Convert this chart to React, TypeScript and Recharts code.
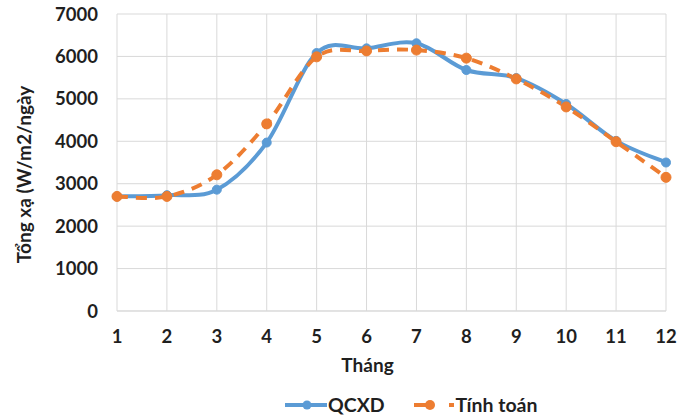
import React from 'react';
import {
  LineChart,
  Line,
  XAxis,
  YAxis,
  CartesianGrid,
  Legend
} from 'recharts';

const months = [1, 2, 3, 4, 5, 6, 7, 8, 9, 10, 11, 12];
const qcxd = [2700, 2730, 2860, 3970, 6080, 6190, 6310, 5680, 5490, 4880, 4010, 3500];
const tinhToan = [2700, 2700, 3210, 4410, 5990, 6130, 6150, 5960, 5470, 4810, 3990, 3150];
const yTicks = [0, 1000, 2000, 3000, 4000, 5000, 6000, 7000];

const BLUE = '#5B9BD5';
const ORANGE = '#ED7D31';
const TEXT = '#1f1f1f';
const FONT = 'Lato, "Open Sans", sans-serif';

const data = months.map((m, i) => ({ month: m, qcxd: qcxd[i], tinhToan: tinhToan[i] }));

// Excel-like smoothed line (Catmull-Rom style bezier)
const excelSmooth = (ctx: any) => {
  let pts: number[][] = [];
  return {
    areaStart() {},
    areaEnd() {},
    lineStart() {
      pts = [];
    },
    lineEnd() {
      const n = pts.length;
      if (!n) return;
      ctx.moveTo(pts[0][0], pts[0][1]);
      for (let i = 0; i < n - 1; i++) {
        const p0 = pts[Math.max(i - 1, 0)];
        const p1 = pts[i];
        const p2 = pts[i + 1];
        const p3 = pts[Math.min(i + 2, n - 1)];
        ctx.bezierCurveTo(
          p1[0] + (p2[0] - p0[0]) / 6,
          p1[1] + (p2[1] - p0[1]) / 6,
          p2[0] - (p3[0] - p1[0]) / 6,
          p2[1] - (p3[1] - p1[1]) / 6,
          p2[0],
          p2[1]
        );
      }
    },
    point(x: number, y: number) {
      pts.push([x, y]);
    }
  };
};

const renderLegend = () => (
  <div style={{ display: 'flex', alignItems: 'center', fontFamily: FONT, fontWeight: 700, fontSize: 19.5, color: TEXT, lineHeight: '20px', paddingLeft: 285 }}>
    <svg width={42} height={12} style={{ marginRight: 1 }}>
      <line x1={0} y1={6} x2={42} y2={6} stroke={BLUE} strokeWidth={4} />
      <circle cx={22} cy={6} r={4.5} fill={BLUE} />
    </svg>
    <span style={{ marginRight: 29 }}>QCXD</span>
    <svg width={41} height={12} style={{ marginRight: 1 }}>
      <line x1={0} y1={6} x2={16} y2={6} stroke={ORANGE} strokeWidth={4} />
      <circle cx={16} cy={6} r={5} fill={ORANGE} />
      <line x1={35} y1={6} x2={40} y2={6} stroke={ORANGE} strokeWidth={4} />
    </svg>
    <span>Tính toán</span>
  </div>
);

const App: React.FC = () => {
  return (
    <div style={{ position: 'absolute', left: 0, top: 0, background: '#fff' }}>
      <LineChart
        width={678}
        height={417}
        data={data}
        margin={{ top: 14, right: 12, left: 0, bottom: 56 }}
      >
        <CartesianGrid stroke="#d9d9d9" strokeWidth={1} verticalValues={months} />
        <XAxis
          dataKey="month"
          type="number"
          domain={[1, 12]}
          ticks={months}
          height={30}
          axisLine={{ stroke: '#d9d9d9' }}
          tickLine={false}
          tickSize={0}
          tickMargin={19}
          tick={{ fill: TEXT, fontFamily: FONT, fontWeight: 700, fontSize: 18.5 }}
          label={{
            value: 'Tháng',
            position: 'insideBottom',
            offset: -31,
            dx: -24,
            fill: TEXT,
            fontFamily: FONT,
            fontWeight: 700,
            fontSize: 19
          }}
        />
        <YAxis
          width={117}
          domain={[0, 7000]}
          ticks={yTicks}
          axisLine={false}
          tickLine={false}
          tickSize={0}
          tickMargin={19}
          tick={{ fill: TEXT, fontFamily: FONT, fontWeight: 700, fontSize: 18.5 }}
          label={{
            value: 'Tổng xạ (W/m2/ngày',
            angle: -90,
            position: 'insideLeft',
            offset: 24,
            dy: 12,
            fill: TEXT,
            fontFamily: FONT,
            fontWeight: 700,
            fontSize: 19,
            style: { textAnchor: 'middle' }
          }}
        />
        <Legend
          verticalAlign="bottom"
          content={renderLegend}
          wrapperStyle={{ position: 'absolute', left: 0, top: 395, width: 678 }}
        />
        <Line
          dataKey="qcxd"
          name="QCXD"
          type={excelSmooth as any}
          stroke={BLUE}
          strokeWidth={4}
          dot={{ r: 4.5, fill: BLUE, stroke: BLUE, strokeWidth: 1 }}
          isAnimationActive={false}
        />
        <Line
          dataKey="tinhToan"
          name="Tính toán"
          type={excelSmooth as any}
          stroke={ORANGE}
          strokeWidth={4}
          strokeDasharray="11 8"
          dot={{ r: 5, fill: ORANGE, stroke: ORANGE, strokeWidth: 1, strokeDasharray: '0' }}
          isAnimationActive={false}
        />
      </LineChart>
    </div>
  );
};

export default App;
